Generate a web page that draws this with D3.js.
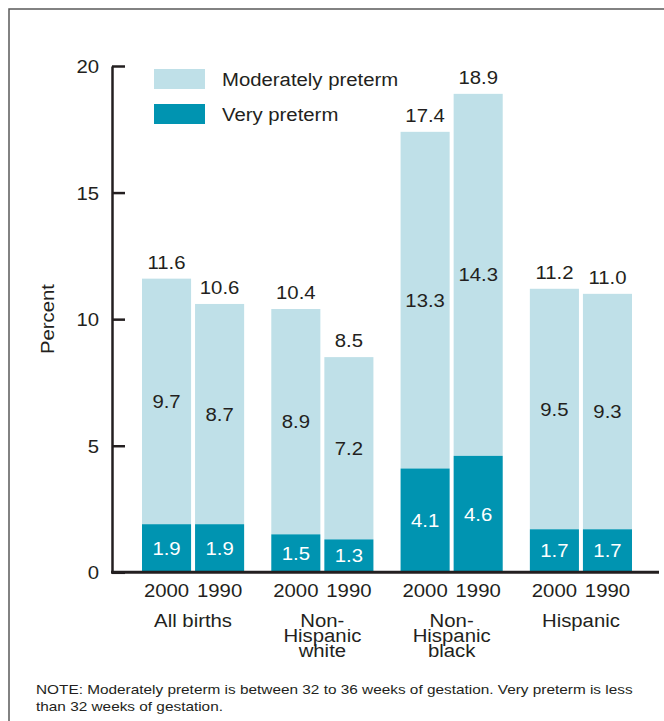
<!DOCTYPE html>
<html>
<head>
<meta charset="utf-8">
<script src="https://cdn.jsdelivr.net/npm/d3@7"></script>
<style>
  html, body { margin: 0; padding: 0; background: #fff; }
  svg { display: block; }
</style>
</head>
<body>
<svg id="chart" width="664" height="721"></svg>
<script>
// ---------- data ----------
const groups = ["All births", "Non-Hispanic white", "Non-Hispanic black", "Hispanic"];
const groupLabelLines = [["All births"], ["Non-", "Hispanic", "white"], ["Non-", "Hispanic", "black"], ["Hispanic"]];
const years = ["2000", "1990"];
const veryPreterm = [[1.9, 1.9], [1.5, 1.3], [4.1, 4.6], [1.7, 1.7]];
const moderatelyPreterm = [[9.7, 8.7], [8.9, 7.2], [13.3, 14.3], [9.5, 9.3]];
const totals = [[11.6, 10.6], [10.4, 8.5], [17.4, 18.9], [11.2, 11.0]];
const yTicks = [0, 5, 10, 15, 20];
const seriesNames = ["Moderately preterm", "Very preterm"];
const noteLines = [
  "NOTE: Moderately preterm is between 32 to 36 weeks of gestation. Very preterm is less",
  "than 32 weeks of gestation."
];

// ---------- style ----------
const C_LIGHT = "#bfe0e8";
const C_DARK = "#0094b1";
const C_TEXT = "#231f20";
const FONT = "'Liberation Sans', Arial, Helvetica, sans-serif";
const SX = 1.13;
const FS = 18;

const svg = d3.select("#chart");

// frame
svg.append("rect")
  .attr("x", 9).attr("y", 9).attr("width", 720).attr("height", 800)
  .attr("fill", "none").attr("stroke", "#5a5a5a").attr("stroke-width", 1.5);

// scales
const y = d3.scaleLinear().domain([0, 20]).range([572.3, 66]);
const x0 = d3.scaleBand().domain(groups).range([142, 632]).paddingInner(0.21).paddingOuter(0);
const x1 = d3.scaleBand().domain(years).range([0, x0.bandwidth()]).paddingInner(0.075).paddingOuter(0);

function stext(parent, x, yy, str, size, anchor, fill) {
  return parent.append("text")
    .attr("transform", `translate(${x},${yy}) scale(${SX},1)`)
    .attr("text-anchor", anchor || "middle")
    .attr("font-family", FONT)
    .attr("font-size", size)
    .attr("fill", fill || C_TEXT)
    .text(str);
}

const fmt = d3.format(".1f");

// bars
const gGroups = svg.append("g").selectAll("g").data(groups).join("g")
  .attr("transform", d => `translate(${x0(d)},0)`);

gGroups.each(function (gname, gi) {
  const g = d3.select(this);
  years.forEach((yr, yi) => {
    const vp = veryPreterm[gi][yi];
    const mp = moderatelyPreterm[gi][yi];
    const tot = totals[gi][yi];
    const bx = x1(yr), bw = x1.bandwidth();
    g.append("rect")
      .attr("x", bx).attr("width", bw)
      .attr("y", y(vp + mp)).attr("height", y(vp) - y(vp + mp))
      .attr("fill", C_LIGHT);
    g.append("rect")
      .attr("x", bx).attr("width", bw)
      .attr("y", y(vp)).attr("height", y(0) - y(vp))
      .attr("fill", C_DARK);
    const cx = bx + bw / 2;
    stext(g, cx, y(tot) - 10, fmt(tot), FS);
    stext(g, cx, y(vp + mp / 2) + 6.5, fmt(mp), FS);
    stext(g, cx, y(vp / 2) + 6.5, fmt(vp), FS, "middle", "#ffffff");
    stext(g, cx, 597, yr, FS);
  });
  // group label (one text, multiple lines)
  const t = stext(g, x0.bandwidth() / 2, 627, null, FS);
  groupLabelLines[gi].forEach((line, li) => {
    t.append("tspan").attr("x", 0).attr("y", li * 15).text(line);
  });
});

// y axis
const yAxis = d3.axisLeft(y).tickValues(yTicks).tickSizeInner(-13).tickSizeOuter(0).tickPadding(13)
  .tickFormat(d3.format("d"));
const ya = svg.append("g").attr("transform", "translate(112,0)").call(yAxis);
ya.select(".domain").attr("stroke", C_TEXT).attr("stroke-width", 2.5);
ya.selectAll(".tick line").attr("stroke", C_TEXT).attr("stroke-width", 2.5);
ya.selectAll(".tick text")
  .attr("font-family", FONT).attr("font-size", FS).attr("fill", C_TEXT)
  .attr("x", null).attr("dy", null)
  .attr("transform", `translate(-13,6.5) scale(${SX},1)`);

// x axis baseline
svg.append("line")
  .attr("x1", 111).attr("x2", 659)
  .attr("y1", y(0)).attr("y2", y(0))
  .attr("stroke", C_TEXT).attr("stroke-width", 3);

// y-axis title
svg.append("text")
  .attr("transform", `translate(54,319) rotate(-90) scale(${SX},1)`)
  .attr("text-anchor", "middle")
  .attr("font-family", FONT).attr("font-size", FS).attr("fill", C_TEXT)
  .text("Percent");

// legend
const legend = svg.append("g");
const legColors = [C_LIGHT, C_DARK];
const legY = [69, 104];
seriesNames.forEach((name, i) => {
  legend.append("rect").attr("x", 154).attr("y", legY[i]).attr("width", 51).attr("height", 20)
    .attr("fill", legColors[i]);
  stext(legend, 222, legY[i] + 17, name, FS, "start");
});

// note
noteLines.forEach((line, i) => {
  stext(svg, 36, 694 + i * 16.5, line, 13.6, "start");
});
</script>
</body>
</html>
